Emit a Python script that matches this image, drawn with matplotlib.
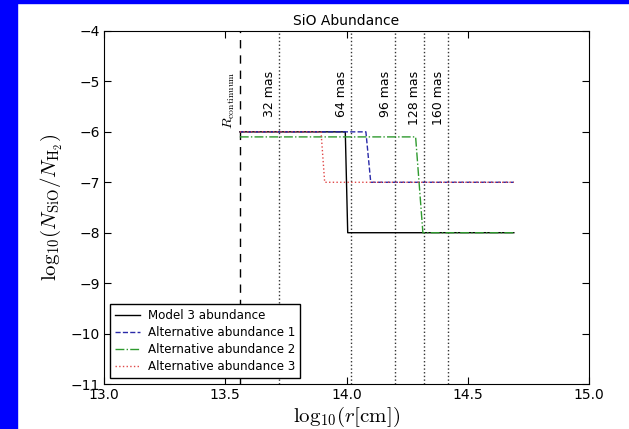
import matplotlib
matplotlib.use("Agg")
import matplotlib.pyplot as plt
from matplotlib.patches import Rectangle

plt.rcParams['mathtext.fontset'] = 'cm'
plt.rcParams['xtick.direction'] = 'in'
plt.rcParams['ytick.direction'] = 'in'
plt.rcParams['xtick.top'] = True
plt.rcParams['ytick.right'] = True
plt.rcParams['font.size'] = 10

# abundance profiles: log10 radius (cm) vs log10 abundance
model_r = [13.56, 13.995, 14.005, 14.69]
model_a = [-6.0, -6.0, -8.0, -8.0]

alt1_r = [13.56, 14.08, 14.10, 14.69]
alt1_a = [-6.0, -6.0, -7.0, -7.0]

alt2_r = [13.56, 14.285, 14.315, 14.69]
alt2_a = [-6.1, -6.1, -8.0, -8.0]

alt3_r = [13.56, 13.895, 13.91, 14.69]
alt3_a = [-6.0, -6.0, -7.0, -7.0]

r_continuum = 13.56
mas_labels = ['32 mas', '64 mas', '96 mas', '128 mas', '160 mas']
mas_r = [13.72, 14.02, 14.20, 14.32, 14.42]

fig = plt.figure(figsize=(6.29, 4.29), dpi=100)
ax = fig.add_axes([104 / 629, 1 - 384 / 429, 485 / 629, 353 / 429])

ax.plot(model_r, model_a, color='black', lw=1.0, label='Model 3 abundance')
ax.plot(alt1_r, alt1_a, color='#2a2aa8', lw=1.0, ls='--', label='Alternative abundance 1')
ax.plot(alt2_r, alt2_a, color='#2e9a2e', lw=1.0, ls='-.', label='Alternative abundance 2')
ax.plot(alt3_r, alt3_a, color='#e04848', lw=1.0, ls=':', label='Alternative abundance 3')

ax.axvline(r_continuum, color='black', ls=(0, (6, 5)), lw=1.0, zorder=1)
ax.text(r_continuum - 0.012, -4.8, r'$R_{\rm continuum}$', rotation=90,
        ha='right', va='top', fontsize=10)
for r, lab in zip(mas_r, mas_labels):
    ax.axvline(r, color='#333333', ls=':', lw=1.0, zorder=1)
    ax.text(r - 0.012, -4.8, lab, rotation=90, ha='right', va='top', fontsize=9)

ax.set_xlim(13.0, 15.0)
ax.set_ylim(-11, -4)
ax.set_xticks([13.0, 13.5, 14.0, 14.5, 15.0])
ax.set_xticklabels(['13.0', '13.5', '14.0', '14.5', '15.0'])
ax.tick_params(length=5, width=0.8, pad=3)
ax.set_title('SiO Abundance', fontsize=10, pad=4)
ax.set_xlabel(r'$\mathrm{log}_{10}(r[\mathrm{cm}])$', fontsize=15, labelpad=2)
ax.set_ylabel(r'$\mathrm{log}_{10}(N_{\rm SiO}/N_{\rm H_2})$', fontsize=15)
ax.yaxis.set_label_coords(-0.08, 0.5)
ax.legend(loc='lower left', fontsize=8.6, fancybox=False, framealpha=1,
          edgecolor='black', handlelength=2.1, handletextpad=0.7,
          borderaxespad=0.5, labelspacing=0.35)

# blue frame strips along the left and top edges
fig.patches.append(Rectangle((0, 0), 17 / 629, 1, transform=fig.transFigure,
                             color='#0000ff', zorder=10))
fig.patches.append(Rectangle((0, 1 - 3 / 429), 1, 3 / 429, transform=fig.transFigure,
                             color='#0000ff', zorder=10))

fig.savefig('out.png', dpi=100)
